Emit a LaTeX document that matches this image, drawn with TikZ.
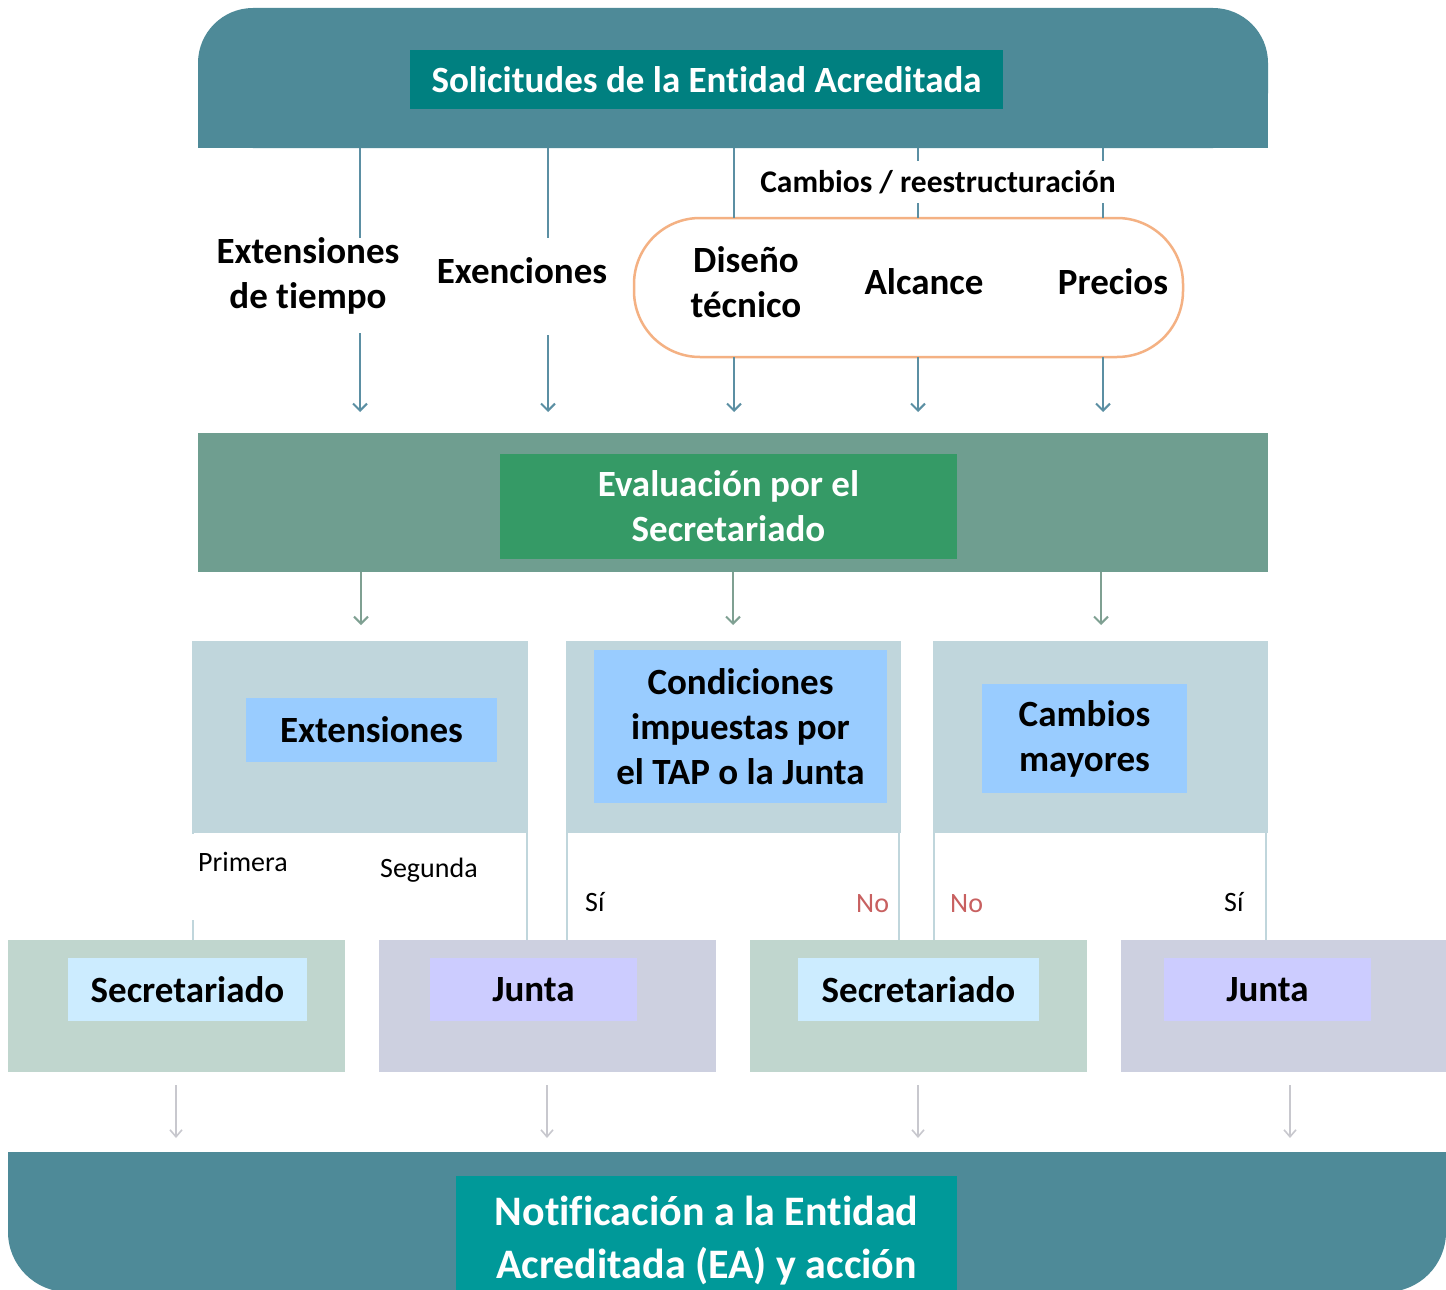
\documentclass[tikz,border=0pt]{standalone}
\usepackage{fontspec}
\setmainfont{Carlito}[Ligatures={NoCommon,NoContextual,NoRare}]
\usetikzlibrary{arrows.meta}
\definecolor{banner}{RGB}{78,138,152}
\definecolor{titlec}{RGB}{0,128,128}
\definecolor{bandc}{RGB}{111,158,144}
\definecolor{evalc}{RGB}{53,154,102}
\definecolor{rowc}{RGB}{192,214,220}
\definecolor{innerc}{RGB}{153,204,255}
\definecolor{greyg}{RGB}{192,214,206}
\definecolor{lavg}{RGB}{205,208,224}
\definecolor{secc}{RGB}{204,236,255}
\definecolor{juntac}{RGB}{204,204,255}
\definecolor{notc}{RGB}{0,153,153}
\definecolor{lineT}{RGB}{91,143,163}
\definecolor{lineM}{RGB}{127,160,146}
\definecolor{lineB}{RGB}{200,200,206}
\definecolor{pillc}{RGB}{244,177,131}
\definecolor{noc}{RGB}{200,96,96}
\tikzset{
  plain/.style={inner sep=0pt, outer sep=0pt, anchor=center},
  bigtxt/.style={font=\fontsize{37}{45}\selectfont\bfseries, align=center},
  whitetxt/.style={bigtxt, text=white},
  smalllbl/.style={font=\fontsize{28}{33}\selectfont, anchor=west, inner sep=0pt},
  arrT/.style={draw=lineT, line width=2pt, -{Straight Barb[length=7pt,width=14pt,line width=2pt]}},
  arrM/.style={draw=lineM, line width=2pt, -{Straight Barb[length=7pt,width=14pt,line width=2pt]}},
  arrB/.style={draw=lineB, line width=1.6pt, -{Straight Barb[length=7pt,width=12pt,line width=1.6pt]}},
  plainT/.style={draw=lineT, line width=2pt},
  branch/.style={draw=rowc, line width=2pt},
}
\begin{document}
\begin{tikzpicture}[x=1pt,y=-1pt]
\useasboundingbox (0,0) rectangle (1446,1290);
\clip (0,0) rectangle (1446,1290);
\fill[white] (0,0) rectangle (1446,1290);

% top banner
\fill[banner, rounded corners=55pt] (198,8) rectangle (1268,148);
\fill[banner] (198,80) rectangle (1268,148);
\node[plain, minimum width=1070pt, minimum height=140pt] (topban) at (733,78) {};
\node[plain, fill=titlec, minimum width=593pt, minimum height=59pt, whitetxt] (title) at (706.5,79.5) {Solicitudes de la Entidad Acreditada};

% arrow end coordinates
\coordinate (a1) at (360,412);
\coordinate (a2) at (548,412);
\coordinate (a3) at (734,412);
\coordinate (a4) at (918,412);
\coordinate (a5) at (1103,412);

% pill
\node[plain, draw=pillc, line width=2.5pt, fill=white, rounded corners=66pt, minimum width=549pt, minimum height=139pt] (pill) at (908.5,287.5) {};

\draw[arrT] (topban.south -| a1) -- (a1);
\draw[arrT] (topban.south -| a2) -- (a2);
\draw[plainT] (topban.south -| a3) -- (pill.north -| a3);
\draw[plainT] (topban.south -| a4) -- (pill.north -| a4);
\draw[plainT] (topban.south -| a5) -- (pill.north -| a5);
\draw[arrT] (pill.south -| a3) -- (a3);
\draw[arrT] (pill.south -| a4) -- (a4);
\draw[arrT] (pill.south -| a5) -- (a5);

\fill[white] (212,238) rectangle (404,333);
\fill[white] (432,238) rectangle (612,335);
\node[plain, bigtxt] (ext) at (308,276) {Extensiones\\de tiempo};
\node[plain, bigtxt] (exen) at (522,271) {Exenciones};
\node[plain, fill=white, minimum height=42pt, inner xsep=4pt, font=\fontsize{31.5}{36}\selectfont\bfseries] (camb) at (938,182) {Cambios / reestructuración};
\node[plain, bigtxt] (dis) at (746,282) {Diseño\\técnico};
\node[plain, bigtxt] (alc) at (924,282) {Alcance};
\node[plain, bigtxt] (prec) at (1113,282) {Precios};

% middle band
\node[plain, fill=bandc, minimum width=1070pt, minimum height=139pt] (band) at (733,502.5) {};
\node[plain, fill=evalc, minimum width=457pt, minimum height=105pt, whitetxt] (eval) at (728.5,506.5) {Evaluación por el\\Secretariado};

\coordinate (b1) at (361,625);
\coordinate (b2) at (733,625);
\coordinate (b3) at (1101,625);
\draw[arrM] (band.south -| b1) -- (b1);
\draw[arrM] (band.south -| b2) -- (b2);
\draw[arrM] (band.south -| b3) -- (b3);

% three boxes
\node[plain, fill=rowc, minimum width=336pt, minimum height=192pt] (box1) at (360,737) {};
\node[plain, fill=rowc, minimum width=335pt, minimum height=192pt] (box2) at (733.5,737) {};
\node[plain, fill=rowc, minimum width=335pt, minimum height=192pt] (box3) at (1100.5,737) {};
\node[plain, fill=innerc, minimum width=251pt, minimum height=64pt, bigtxt] (extb) at (371.5,730) {Extensiones};
\node[plain, fill=innerc, minimum width=293pt, minimum height=153pt, bigtxt] (cond) at (740.5,726.5) {Condiciones\\impuestas por\\el TAP o la Junta};
\node[plain, fill=innerc, minimum width=205pt, minimum height=109pt, bigtxt] (cmay) at (1084.5,738.5) {Cambios\\mayores};

% bottom row boxes
\node[plain, fill=greyg, minimum width=337pt, minimum height=132pt] (bA) at (176.5,1006) {};
\node[plain, fill=lavg, minimum width=337pt, minimum height=132pt] (bB) at (547.5,1006) {};
\node[plain, fill=greyg, minimum width=337pt, minimum height=132pt] (bC) at (918.5,1006) {};
\node[plain, fill=lavg, minimum width=337pt, minimum height=132pt] (bD) at (1289.5,1006) {};
\node[plain, fill=secc, minimum width=239pt, minimum height=63pt, bigtxt] (sA) at (187.5,989.5) {Secretariado};
\node[plain, fill=juntac, minimum width=207pt, minimum height=63pt, bigtxt] (jB) at (533.5,989.5) {Junta};
\node[plain, fill=secc, minimum width=241pt, minimum height=63pt, bigtxt] (sC) at (918.5,989.5) {Secretariado};
\node[plain, fill=juntac, minimum width=207pt, minimum height=63pt, bigtxt] (jD) at (1267.5,989.5) {Junta};

% branch lines
\coordinate (l1) at (193,940);
\coordinate (l2) at (527,940);
\coordinate (l3) at (567,940);
\coordinate (l4) at (899,940);
\coordinate (l5) at (934,940);
\coordinate (l6) at (1266,940);
\draw[branch] (box1.south -| l1) -- (l1);
\draw[branch] (box1.south -| l2) -- (l2);
\draw[branch] (box2.south -| l3) -- (l3);
\draw[branch] (box2.south -| l4) -- (l4);
\draw[branch] (box3.south -| l5) -- (l5);
\draw[branch] (box3.south -| l6) -- (l6);
\fill[white] (192,834) rectangle (307,920);
\node[smalllbl] (prim) at (198,862) {Primera};
\node[smalllbl] (seg) at (380,870) {Segunda};
\node[smalllbl] (si1) at (585,902) {Sí};
\node[smalllbl, text=noc] (no1) at (856,904) {No};
\node[smalllbl, text=noc] (no2) at (950,904) {No};
\node[smalllbl] (si2) at (1224,902) {Sí};

% bottom arrows
\coordinate (d1) at (176,1138);
\coordinate (d2) at (547,1138);
\coordinate (d3) at (918,1138);
\coordinate (d4) at (1290,1138);
\coordinate (u1) at (176,1085);
\coordinate (u2) at (547,1085);
\coordinate (u3) at (918,1085);
\coordinate (u4) at (1290,1085);
\draw[arrB] (u1) -- (d1);
\draw[arrB] (u2) -- (d2);
\draw[arrB] (u3) -- (d3);
\draw[arrB] (u4) -- (d4);

% bottom banner
\fill[banner, rounded corners=60pt] (8,1152) rectangle (1446,1292);
\fill[banner] (8,1152) rectangle (1446,1220);
\node[plain, fill=notc, minimum width=501pt, minimum height=130pt, font=\fontsize{42}{53}\selectfont\bfseries, text=white, align=center] (notif) at (706.5,1241) {Notificación a la Entidad\\Acreditada (EA) y acción};
\end{tikzpicture}
\end{document}
